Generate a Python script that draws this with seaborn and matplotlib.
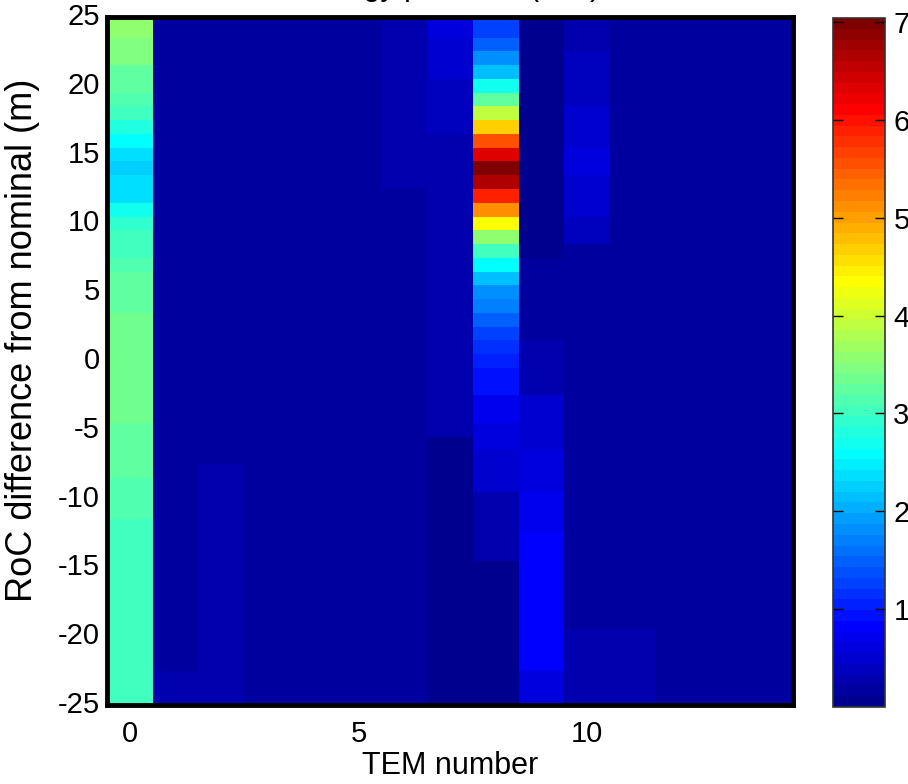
import numpy as np
import pandas as pd
import matplotlib
matplotlib.use("Agg")
import matplotlib.pyplot as plt
import seaborn as sns
from matplotlib.colors import ListedColormap

plt.rcParams['font.family'] = ['Liberation Sans', 'DejaVu Sans']

# RoC difference from nominal (m), top row first
roc_values = [25, 24, 23, 22, 21, 20, 19, 18, 17, 16,
              15, 14, 13, 12, 11, 10, 9, 8, 7, 6,
              5, 4, 3, 2, 1, 0, -1, -2, -3, -4,
              -5, -6, -7, -8, -9, -10, -11, -12, -13, -14,
              -15, -16, -17, -18, -19, -20, -21, -22, -23, -24,
              -25]
tem_numbers = [0, 1, 2, 3, 4, 5, 6, 7, 8, 9, 10, 11, 12, 13, 14]
x_ticks = [0, 5, 10]
y_ticks = [25, 20, 15, 10, 5, 0, -5, -10, -15, -20, -25]
cbar_ticks = [1, 2, 3, 4, 5, 6, 7]

# one list per TEM column, rows from RoC = +25 down to -25
tem0 = [3.62, 3.62, 3.47, 3.47, 3.25, 3.20, 3.14, 3.03, 2.80, 2.59,
        2.34, 2.20, 2.31, 2.41, 2.70, 2.86, 2.97, 3.03, 3.10, 3.26,
        3.26, 3.26, 3.37, 3.37, 3.37, 3.37, 3.37, 3.37, 3.37, 3.37,
        3.26, 3.26, 3.26, 3.26, 3.17, 3.17, 3.17, 3.07, 3.07, 3.07,
        3.07, 3.07, 3.07, 3.07, 3.07, 3.07, 3.07, 3.07, 3.07, 3.07,
        3.07]
tem1 = [0.16, 0.16, 0.16, 0.16, 0.16, 0.16, 0.16, 0.16, 0.16, 0.16,
        0.16, 0.16, 0.16, 0.16, 0.16, 0.16, 0.16, 0.16, 0.16, 0.16,
        0.16, 0.16, 0.16, 0.16, 0.16, 0.16, 0.16, 0.16, 0.16, 0.16,
        0.16, 0.16, 0.16, 0.16, 0.16, 0.16, 0.16, 0.16, 0.16, 0.16,
        0.16, 0.16, 0.16, 0.16, 0.16, 0.16, 0.16, 0.16, 0.27, 0.27,
        0.27]
tem2 = [0.16, 0.16, 0.16, 0.16, 0.16, 0.16, 0.16, 0.16, 0.16, 0.16,
        0.16, 0.16, 0.16, 0.16, 0.16, 0.16, 0.16, 0.16, 0.16, 0.16,
        0.16, 0.16, 0.16, 0.16, 0.16, 0.16, 0.16, 0.16, 0.16, 0.16,
        0.16, 0.16, 0.16, 0.27, 0.27, 0.27, 0.27, 0.27, 0.27, 0.27,
        0.27, 0.27, 0.27, 0.27, 0.27, 0.27, 0.27, 0.27, 0.27, 0.27,
        0.27]
tem3 = [0.16, 0.16, 0.16, 0.16, 0.16, 0.16, 0.16, 0.16, 0.16, 0.16,
        0.16, 0.16, 0.16, 0.16, 0.16, 0.16, 0.16, 0.16, 0.16, 0.16,
        0.16, 0.16, 0.16, 0.16, 0.16, 0.16, 0.16, 0.16, 0.16, 0.16,
        0.16, 0.16, 0.16, 0.16, 0.16, 0.16, 0.16, 0.16, 0.16, 0.16,
        0.16, 0.16, 0.16, 0.16, 0.16, 0.16, 0.16, 0.16, 0.16, 0.16,
        0.16]
tem4 = [0.16, 0.16, 0.16, 0.16, 0.16, 0.16, 0.16, 0.16, 0.16, 0.16,
        0.16, 0.16, 0.16, 0.16, 0.16, 0.16, 0.16, 0.16, 0.16, 0.16,
        0.16, 0.16, 0.16, 0.16, 0.16, 0.16, 0.16, 0.16, 0.16, 0.16,
        0.16, 0.16, 0.16, 0.16, 0.16, 0.16, 0.16, 0.16, 0.16, 0.16,
        0.16, 0.16, 0.16, 0.16, 0.16, 0.16, 0.16, 0.16, 0.16, 0.16,
        0.16]
tem5 = [0.16, 0.16, 0.16, 0.16, 0.16, 0.16, 0.16, 0.16, 0.16, 0.16,
        0.16, 0.16, 0.16, 0.16, 0.16, 0.16, 0.16, 0.16, 0.16, 0.16,
        0.16, 0.16, 0.16, 0.16, 0.16, 0.16, 0.16, 0.16, 0.16, 0.16,
        0.16, 0.16, 0.16, 0.16, 0.16, 0.16, 0.16, 0.16, 0.16, 0.16,
        0.16, 0.16, 0.16, 0.16, 0.16, 0.16, 0.16, 0.16, 0.16, 0.16,
        0.16]
tem6 = [0.27, 0.27, 0.27, 0.27, 0.27, 0.27, 0.27, 0.27, 0.27, 0.27,
        0.27, 0.27, 0.27, 0.16, 0.16, 0.16, 0.16, 0.16, 0.16, 0.16,
        0.16, 0.16, 0.16, 0.16, 0.16, 0.16, 0.16, 0.16, 0.16, 0.16,
        0.16, 0.16, 0.16, 0.16, 0.16, 0.16, 0.16, 0.16, 0.16, 0.16,
        0.16, 0.16, 0.16, 0.16, 0.16, 0.16, 0.16, 0.16, 0.16, 0.16,
        0.16]
tem7 = [0.60, 0.60, 0.49, 0.49, 0.49, 0.38, 0.38, 0.38, 0.38, 0.27,
        0.27, 0.27, 0.27, 0.27, 0.27, 0.27, 0.27, 0.27, 0.27, 0.27,
        0.27, 0.27, 0.27, 0.27, 0.27, 0.27, 0.27, 0.27, 0.27, 0.27,
        0.27, 0.00, 0.00, 0.00, 0.00, 0.00, 0.00, 0.00, 0.00, 0.00,
        0.00, 0.00, 0.00, 0.00, 0.00, 0.00, 0.00, 0.00, 0.00, 0.00,
        0.00]
tem8 = [1.21, 1.27, 1.49, 1.79, 2.10, 2.70, 3.20, 3.90, 4.68, 5.55,
        6.33, 7.04, 6.66, 5.89, 5.14, 4.35, 3.55, 3.03, 2.59, 2.13,
        1.86, 1.65, 1.44, 1.27, 1.10, 1.00, 0.93, 0.93, 0.71, 0.71,
        0.60, 0.60, 0.49, 0.49, 0.49, 0.27, 0.27, 0.27, 0.27, 0.27,
        0.00, 0.00, 0.00, 0.00, 0.00, 0.00, 0.00, 0.00, 0.00, 0.00,
        0.00]
tem9 = [0.00, 0.00, 0.00, 0.00, 0.00, 0.00, 0.00, 0.00, 0.00, 0.00,
        0.00, 0.00, 0.00, 0.00, 0.00, 0.00, 0.00, 0.00, 0.16, 0.16,
        0.16, 0.16, 0.16, 0.16, 0.27, 0.27, 0.27, 0.27, 0.49, 0.49,
        0.49, 0.49, 0.60, 0.60, 0.60, 0.71, 0.71, 0.71, 0.82, 0.82,
        0.82, 0.82, 0.82, 0.82, 0.82, 0.82, 0.82, 0.82, 0.60, 0.60,
        0.60]
tem10 = [0.27, 0.27, 0.27, 0.38, 0.38, 0.38, 0.38, 0.49, 0.49, 0.49,
         0.60, 0.60, 0.49, 0.49, 0.49, 0.38, 0.38, 0.16, 0.16, 0.16,
         0.16, 0.16, 0.16, 0.16, 0.16, 0.16, 0.16, 0.16, 0.16, 0.16,
         0.16, 0.16, 0.16, 0.16, 0.16, 0.16, 0.16, 0.16, 0.16, 0.16,
         0.16, 0.16, 0.16, 0.16, 0.16, 0.27, 0.27, 0.27, 0.27, 0.27,
         0.27]
tem11 = [0.16, 0.16, 0.16, 0.16, 0.16, 0.16, 0.16, 0.16, 0.16, 0.16,
         0.16, 0.16, 0.16, 0.16, 0.16, 0.16, 0.16, 0.16, 0.16, 0.16,
         0.16, 0.16, 0.16, 0.16, 0.16, 0.16, 0.16, 0.16, 0.16, 0.16,
         0.16, 0.16, 0.16, 0.16, 0.16, 0.16, 0.16, 0.16, 0.16, 0.16,
         0.16, 0.16, 0.16, 0.16, 0.16, 0.27, 0.27, 0.27, 0.27, 0.27,
         0.27]
tem12 = [0.16, 0.16, 0.16, 0.16, 0.16, 0.16, 0.16, 0.16, 0.16, 0.16,
         0.16, 0.16, 0.16, 0.16, 0.16, 0.16, 0.16, 0.16, 0.16, 0.16,
         0.16, 0.16, 0.16, 0.16, 0.16, 0.16, 0.16, 0.16, 0.16, 0.16,
         0.16, 0.16, 0.16, 0.16, 0.16, 0.16, 0.16, 0.16, 0.16, 0.16,
         0.16, 0.16, 0.16, 0.16, 0.16, 0.16, 0.16, 0.16, 0.16, 0.16,
         0.16]
tem13 = [0.16, 0.16, 0.16, 0.16, 0.16, 0.16, 0.16, 0.16, 0.16, 0.16,
         0.16, 0.16, 0.16, 0.16, 0.16, 0.16, 0.16, 0.16, 0.16, 0.16,
         0.16, 0.16, 0.16, 0.16, 0.16, 0.16, 0.16, 0.16, 0.16, 0.16,
         0.16, 0.16, 0.16, 0.16, 0.16, 0.16, 0.16, 0.16, 0.16, 0.16,
         0.16, 0.16, 0.16, 0.16, 0.16, 0.16, 0.16, 0.16, 0.16, 0.16,
         0.16]
tem14 = [0.16, 0.16, 0.16, 0.16, 0.16, 0.16, 0.16, 0.16, 0.16, 0.16,
         0.16, 0.16, 0.16, 0.16, 0.16, 0.16, 0.16, 0.16, 0.16, 0.16,
         0.16, 0.16, 0.16, 0.16, 0.16, 0.16, 0.16, 0.16, 0.16, 0.16,
         0.16, 0.16, 0.16, 0.16, 0.16, 0.16, 0.16, 0.16, 0.16, 0.16,
         0.16, 0.16, 0.16, 0.16, 0.16, 0.16, 0.16, 0.16, 0.16, 0.16,
         0.16]

title_text = "Energy per TEM (a.u.)"
x_label = "TEM number"
y_label = "RoC difference from nominal (m)"

columns = [tem0, tem1, tem2, tem3, tem4, tem5, tem6, tem7,
           tem8, tem9, tem10, tem11, tem12, tem13, tem14]
data = pd.DataFrame(np.array(columns).T, index=roc_values, columns=tem_numbers)


def matlab_jet(m=64):
    n = int(np.ceil(m / 4))
    u = np.concatenate([np.arange(1, n + 1) / n, np.ones(n - 1), np.arange(n, 0, -1) / n])
    g = int(np.ceil(n / 2)) - (1 if m % 4 == 1 else 0) + np.arange(1, len(u) + 1)
    r = g + n
    b = g - n
    J = np.zeros((m, 3))
    for idx, ch in ((r, 0), (g, 1), (b, 2)):
        mask = (idx >= 1) & (idx <= m)
        J[idx[mask] - 1, ch] = u[mask]
    return ListedColormap(J)


cmap = matlab_jet(64)

W, H = 908, 784
fig = plt.figure(figsize=(W / 100, H / 100), dpi=100)
ax = fig.add_axes([107 / W, 1 - 705 / H, 686 / W, 688 / H])
cax = fig.add_axes([833 / W, 1 - 707 / H, 52 / W, 689 / H])

sns.heatmap(data, ax=ax, cmap=cmap, cbar=True, cbar_ax=cax,
            xticklabels=True, yticklabels=True)

nrows = len(roc_values)
ax.set_xlim(0, len(tem_numbers))
ax.set_ylim(nrows - 0.5, 0.5)
ax.set_xticks([tem_numbers.index(t) + 0.5 for t in x_ticks])
ax.set_xticklabels([str(t) for t in x_ticks], rotation=0)
ax.set_yticks([roc_values.index(v) + 0.5 for v in y_ticks])
ax.set_yticklabels([str(v) for v in y_ticks], rotation=0)
ax.tick_params(axis='both', labelsize=21, length=0, colors='black')
ax.tick_params(axis='x', pad=11)
ax.tick_params(axis='y', pad=5)

for s in ax.spines.values():
    s.set_visible(True)
    s.set_linewidth(3.5)
    s.set_color('black')

ax.set_xlabel(x_label, fontsize=22, labelpad=2)
ax.set_ylabel(y_label, fontsize=26)
ax.yaxis.set_label_coords(-0.097, 0.53)

cbar = ax.collections[0].colorbar
cbar.set_ticks(cbar_ticks)
cbar.set_ticklabels([str(t) for t in cbar_ticks])
cbar.ax.tick_params(labelsize=21, direction='in', left=True, right=True,
                    length=7, width=1, pad=6)
cbar.outline.set_linewidth(1.2)
cbar.outline.set_edgecolor('#333333')

fig.text((107 + 793) / 2 / W, 1 + 5 / H, title_text, ha='center', va='baseline',
         fontsize=22)

fig.savefig("out.png", dpi=100)
